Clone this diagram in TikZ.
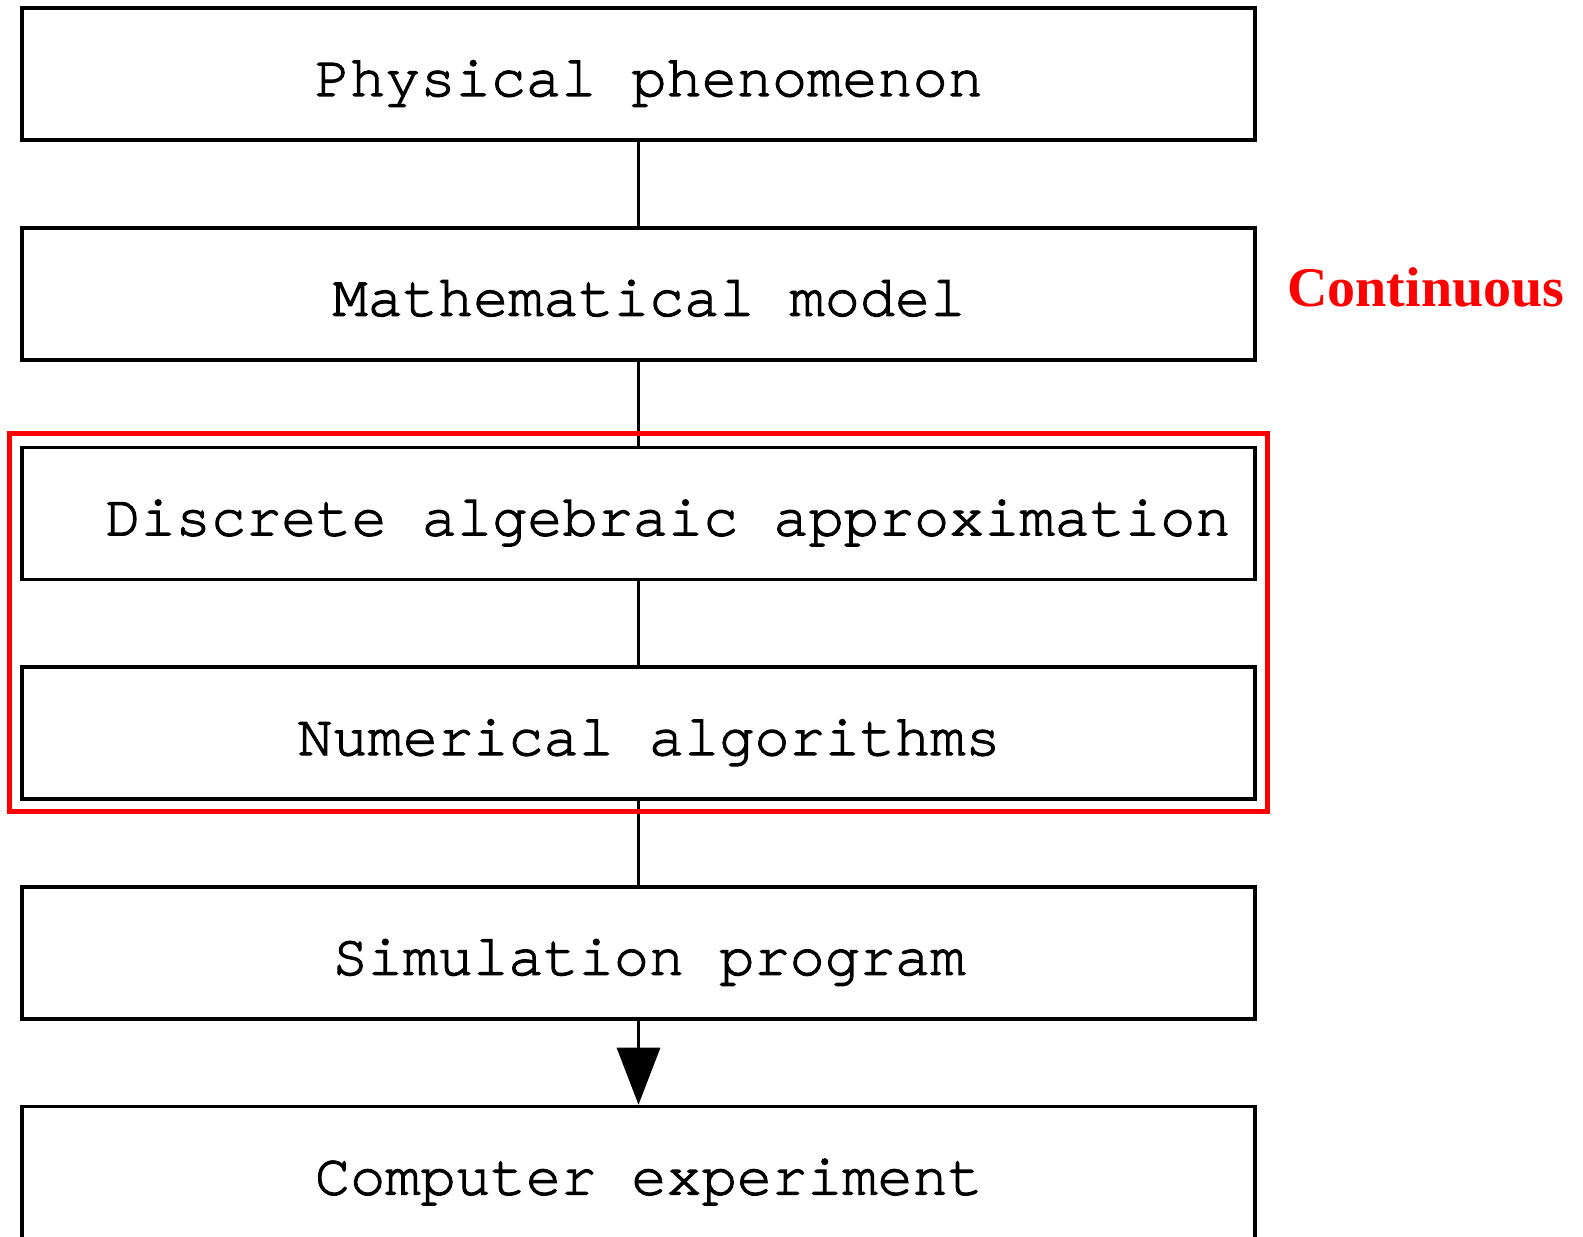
\documentclass[tikz,border=0pt]{standalone}
\usepackage{fontspec}
\newfontfamily\notefont{Liberation Serif}
\newfontfamily\stagefont{TeX Gyre Cursor}[BoldFont={TeX Gyre Cursor}, BoldFeatures={FakeBold=2}]
\usetikzlibrary{arrows.meta}
\tikzset{
  stage/.style={draw, line width=1.8pt, minimum width=616.5pt, minimum height=66pt, inner sep=0pt,
    font=\stagefont\bfseries\fontsize{29.3}{32}\selectfont, text height=22pt, text depth=0pt,
    execute at begin node=\hspace*{10.5pt}},
  link/.style={line width=1.6pt},
  frame/.style={draw=red, line width=2.4pt},
  note/.style={text=red, inner sep=0pt, font=\notefont\bfseries\fontsize{28}{30}\selectfont}
}

\begin{document}
\begin{tikzpicture}[x=0.5pt, y=-0.5pt]
  \useasboundingbox (0,0) rectangle (1583,1236);
  % ------------------------------------------------------------------ stages
  \node[stage] (phys) at (638.5,74.0) {Physical phenomenon};
  \node[stage] (math) at (638.5,293.7) {Mathematical model};
  \node[stage, execute at begin node=\hspace*{19pt}] (disc) at (638.5,513.4) {Discrete algebraic approximation};
  \node[stage] (num) at (638.5,733.1) {Numerical algorithms};
  \node[stage] (sim) at (638.5,952.8) {Simulation program};
  \node[stage] (comp) at (638.5,1172.5) {Computer experiment};
  % ------------------------------------------------------------------ links
  \foreach \a/\b in {phys/math, math/disc, disc/num, num/sim} {\draw[link] (\a) -- (\b);}
  \draw[link, -{Triangle[length=28.5pt, width=21.5pt]}] (sim) -- (comp);
  % ------------------------------------------------------------------ discrete part
  \draw[frame] ([shift={(-10.5,-12)}]disc.north west) rectangle ([shift={(10.5,10.5)}]num.south east);
  \node[note, anchor=base west] (cont) at (1287,306) {Continuous};
\end{tikzpicture}
\end{document}
